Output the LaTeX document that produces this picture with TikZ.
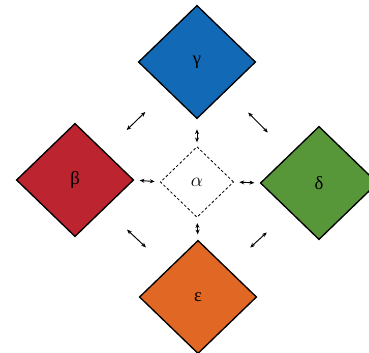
\documentclass[tikz,border=0pt]{standalone}
\usepackage{fontspec}
\setmainfont{Liberation Serif}
\usetikzlibrary{shapes.geometric,arrows.meta}
\definecolor{gblue}{RGB}{18,106,182}
\definecolor{bred}{RGB}{188,36,48}
\definecolor{dgreen}{RGB}{88,150,58}
\definecolor{eorange}{RGB}{224,104,36}
\begin{document}
\begin{tikzpicture}[x=0.75pt,y=-0.75pt,
  gem/.style={diamond,draw=black,line width=1pt,inner sep=0pt,
    minimum width=88pt,minimum height=85pt,font=\fontsize{14}{16}\selectfont},
  hub/.style={diamond,draw=black,dash pattern=on 2pt off 1.6pt,line width=0.6pt,
    inner sep=0pt,minimum width=55pt,minimum height=53pt,font=\fontsize{14}{16}\selectfont},
  link/.style={{Stealth[length=3.6pt,width=3pt]}-{Stealth[length=3.6pt,width=3pt]},
    line width=0.7pt,shorten <=4pt,shorten >=4pt},
  slant/.style={link,shorten <=23pt,shorten >=23pt}]
\useasboundingbox (0,0) rectangle (369,353);
% outer gems
\path (197,62)  node[gem,fill=gblue] (gamma) {γ};
\path (75,180)  node[gem,fill=bred] (beta) {β};
\path (319,183) node[gem,fill=dgreen] (delta) {δ};
\path (198,297) node[gem,fill=eorange] (epsilon) {ε};
% centre
\path (197,182) node[hub] (alpha) {$\alpha$};
% links to the centre
\draw[link,shorten <=7.5pt,shorten >=3pt] (gamma.south) -- (alpha.north);
\draw[link] (beta.east) -- (alpha.west);
\draw[link] (alpha.east) -- (delta.west);
\draw[link] (alpha.south) -- (epsilon.north);
% links between neighbours
\draw[slant] (beta.north east) -- (gamma.south west);
\draw[slant] (gamma.south east) -- (delta.north west);
\draw[slant] (beta.south east) -- (epsilon.north west);
\draw[slant] (epsilon.north east) -- (delta.south west);
\end{tikzpicture}
\end{document}
